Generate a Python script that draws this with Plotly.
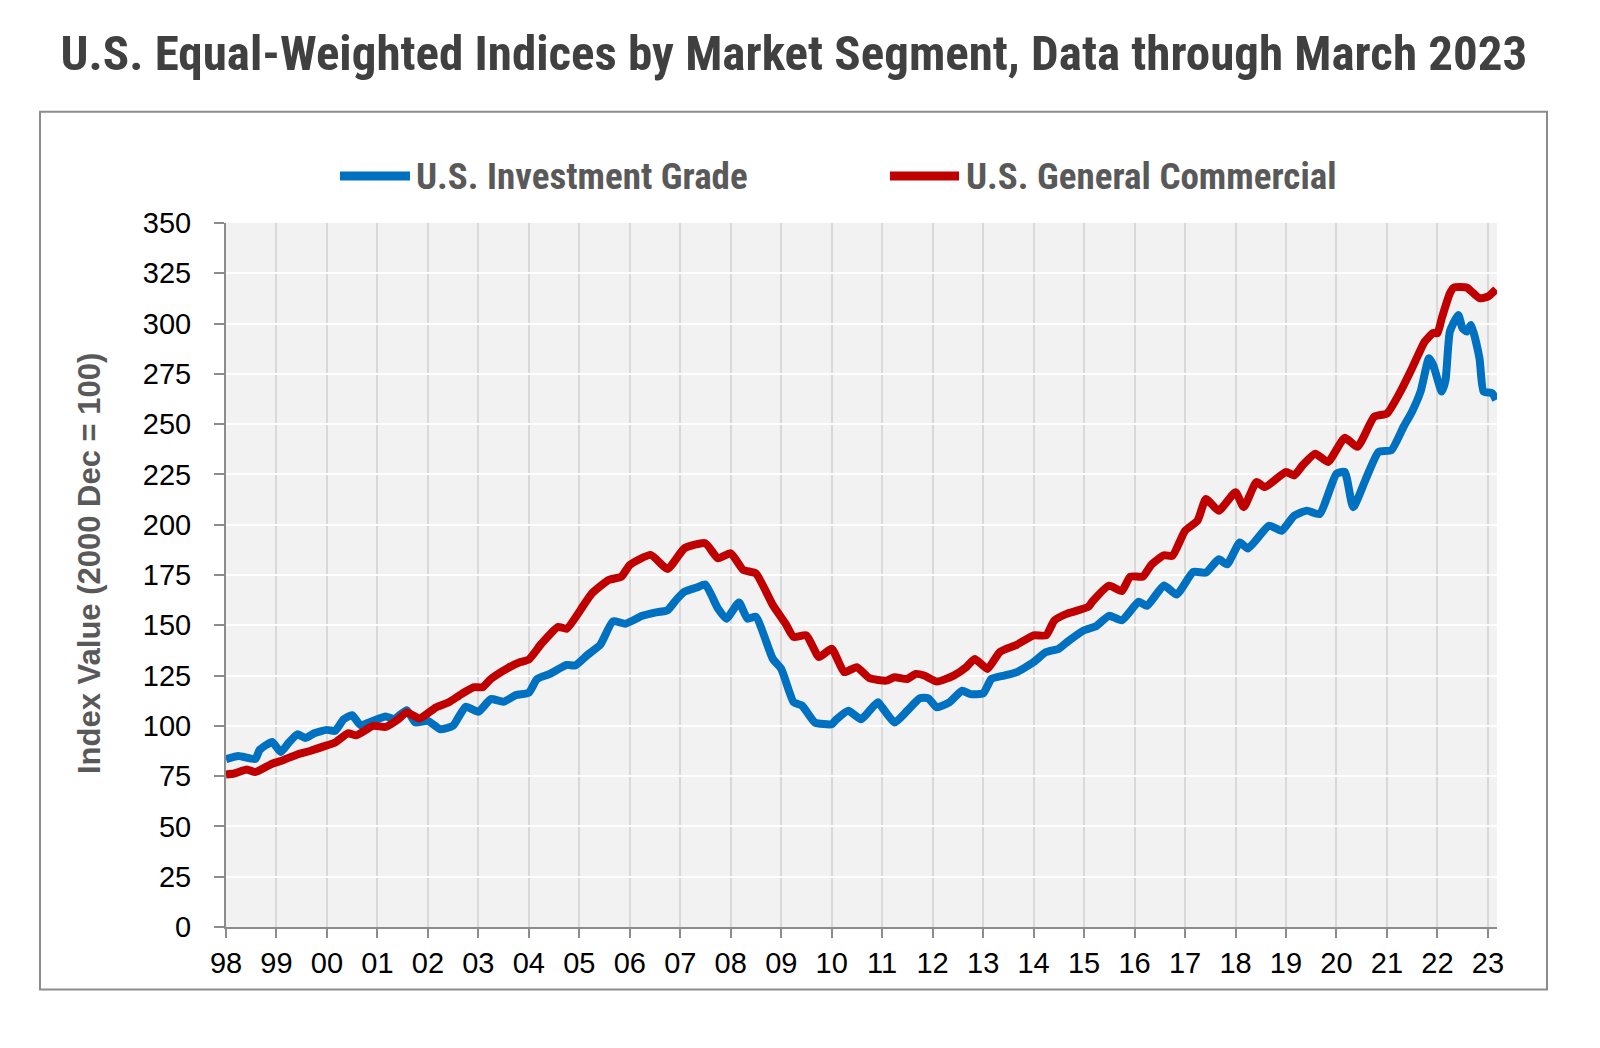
import plotly.graph_objects as go

# ---------------- data ----------------
series_names = ["U.S. Investment Grade", "U.S. General Commercial"]

ig_dates = [
    "1998-01", "1998-04", "1998-08", "1998-09", "1998-12", "1999-02", "1999-04", "1999-06",
    "1999-08", "1999-10", "2000-01", "2000-03", "2000-05", "2000-07", "2000-09", "2000-12",
    "2001-03", "2001-05", "2001-08", "2001-10", "2002-01", "2002-04", "2002-07", "2002-10",
    "2003-01", "2003-04", "2003-07", "2003-10", "2004-01", "2004-03", "2004-06", "2004-10",
    "2004-12", "2005-03", "2005-06", "2005-09", "2005-12", "2006-04", "2006-07", "2006-10",
    "2006-12", "2007-02", "2007-05", "2007-07", "2007-10", "2007-12", "2008-03", "2008-05",
    "2008-07", "2008-11", "2009-01", "2009-04", "2009-06", "2009-09", "2010-01", "2010-02",
    "2010-05", "2010-08", "2010-10", "2010-12", "2011-01", "2011-04", "2011-07", "2011-10",
    "2011-12", "2012-02", "2012-05", "2012-08", "2012-10", "2013-01", "2013-03", "2013-06",
    "2013-09", "2014-01", "2014-04", "2014-07", "2014-09", "2015-01", "2015-04", "2015-07",
    "2015-10", "2016-02", "2016-04", "2016-08", "2016-11", "2017-03", "2017-06", "2017-09",
    "2017-11", "2018-02", "2018-04", "2018-09", "2018-12", "2019-03", "2019-06", "2019-09",
    "2020-01", "2020-03", "2020-05", "2020-08", "2020-11", "2021-02", "2021-05", "2021-07",
    "2021-09", "2021-11", "2021-12", "2022-02", "2022-03", "2022-04", "2022-06", "2022-07",
    "2022-08", "2022-09", "2022-11", "2022-12", "2023-02", "2023-03",
]
ig_values = [
    83.5, 85.0, 83.5, 88.0, 92.0, 87.0, 91.7, 95.8,
    94.0, 96.3, 98.0, 97.5, 103.3, 105.3, 100.3, 102.5,
    104.7, 103.3, 107.8, 101.7, 102.5, 98.3, 100.0, 109.5,
    107.0, 113.3, 112.0, 115.3, 116.5, 123.3, 125.8, 130.3,
    130.0, 135.3, 140.3, 152.0, 150.8, 154.7, 156.3, 157.5,
    162.5, 166.7, 168.8, 170.3, 158.3, 153.3, 161.3, 153.3,
    154.2, 133.3, 128.3, 111.7, 110.0, 101.7, 100.8, 103.0,
    107.5, 103.3, 107.5, 111.7, 109.2, 101.7, 107.5, 113.7,
    113.7, 109.2, 111.7, 117.5, 115.8, 116.2, 123.3, 125.0,
    126.7, 131.7, 136.7, 138.3, 141.7, 147.5, 149.7, 154.7,
    152.5, 161.7, 159.7, 169.8, 165.3, 176.5, 176.2, 182.8,
    180.3, 191.2, 188.2, 199.5, 197.0, 204.5, 207.0, 205.3,
    225.3, 226.2, 208.7, 222.8, 236.2, 237.0, 248.7, 256.2,
    266.2, 282.8, 279.5, 266.2, 272.0, 296.0, 304.3, 297.7,
    296.0, 299.3, 282.8, 266.2, 265.4, 262.0,
]

gc_dates = [
    "1998-01", "1998-03", "1998-06", "1998-08", "1998-12", "1999-02", "1999-06", "1999-09",
    "2000-01", "2000-03", "2000-06", "2000-08", "2000-12", "2001-03", "2001-06", "2001-08",
    "2001-11", "2002-03", "2002-06", "2002-09", "2002-12", "2003-02", "2003-04", "2003-08",
    "2003-11", "2004-01", "2004-04", "2004-08", "2004-10", "2005-02", "2005-04", "2005-08",
    "2005-11", "2006-01", "2006-06", "2006-10", "2007-02", "2007-07", "2007-10", "2008-01",
    "2008-04", "2008-07", "2008-11", "2009-02", "2009-04", "2009-07", "2009-10", "2010-01",
    "2010-04", "2010-07", "2010-10", "2011-02", "2011-04", "2011-07", "2011-09", "2011-11",
    "2012-02", "2012-06", "2012-09", "2012-11", "2013-02", "2013-05", "2013-09", "2014-01",
    "2014-04", "2014-06", "2014-09", "2015-02", "2015-03", "2015-07", "2015-10", "2015-12",
    "2016-03", "2016-05", "2016-08", "2016-10", "2017-01", "2017-04", "2017-06", "2017-09",
    "2018-01", "2018-03", "2018-06", "2018-08", "2019-01", "2019-03", "2019-05", "2019-08",
    "2019-11", "2020-03", "2020-06", "2020-10", "2021-01", "2021-04", "2021-07", "2021-09",
    "2021-10", "2021-12", "2022-01", "2022-02", "2022-04", "2022-05", "2022-08", "2022-09",
    "2022-11", "2023-01", "2023-03",
]
gc_values = [
    75.8, 76.3, 78.3, 77.0, 81.2, 82.5, 85.8, 87.5,
    90.3, 91.7, 96.3, 95.3, 100.0, 99.5, 103.3, 106.7,
    103.7, 109.2, 111.7, 115.8, 119.2, 119.2, 123.3, 128.7,
    131.7, 133.0, 140.8, 149.2, 148.3, 160.0, 165.8, 172.5,
    174.2, 180.0, 185.0, 178.0, 188.3, 190.8, 183.3, 185.8,
    177.5, 175.8, 160.0, 150.8, 144.2, 145.0, 134.2, 138.3,
    126.7, 129.2, 123.7, 122.5, 124.2, 123.3, 125.8, 125.0,
    122.0, 125.0, 129.2, 133.3, 128.3, 136.7, 140.3, 145.0,
    145.0, 152.5, 155.8, 159.2, 161.7, 169.7, 167.0, 174.2,
    174.2, 180.0, 184.8, 184.5, 197.0, 202.0, 212.8, 207.0,
    216.2, 208.7, 221.2, 218.7, 226.2, 224.5, 229.5, 235.3,
    231.2, 243.2, 238.7, 253.7, 255.3, 265.3, 277.8, 287.0,
    291.0, 295.3, 295.2, 302.6, 315.0, 317.9, 317.9, 316.2,
    312.6, 313.4, 317.0,
]

tick_years = list(range(1998, 2024))
tick_labels = ["98", "99", "00", "01", "02", "03", "04", "05", "06", "07", "08", "09", "10",
               "11", "12", "13", "14", "15", "16", "17", "18", "19", "20", "21", "22", "23"]

y_ticks = list(range(0, 351, 25))

# ---------------- styling / layout ----------------
OFF = 8                      # page body margin of the html page
W, H = 1600 - 2 * OFF, 1048 - 2 * OFF
# target positions on screen, converted to figure coordinates
PL, PR, PT, PB = 226 - OFF, 1497 - OFF, 222.5 - OFF, 927.5 - OFF
pw, ph = PR - PL, PB - PT


def px(x_screen):
    return (x_screen - OFF - PL) / pw


def py(y_screen):
    return (PB - (y_screen - OFF)) / ph


BLUE = "#0070C0"
RED = "#C00000"
NARROW = "Liberation Sans Narrow, Arial Narrow, Roboto Condensed, Liberation Sans, Arial"
SANS = "Liberation Sans, Arial, sans-serif"

fig = go.Figure()
fig.add_trace(go.Scatter(x=ig_dates, y=ig_values, mode="lines", name=series_names[0],
                         line=dict(color=BLUE, width=8, shape="spline", smoothing=0.5)))
fig.add_trace(go.Scatter(x=gc_dates, y=gc_values, mode="lines", name=series_names[1],
                         line=dict(color=RED, width=8, shape="spline", smoothing=0.5)))

fig.update_layout(
    width=W, height=H,
    margin=dict(l=PL, r=W - PR, t=PT, b=H - PB, autoexpand=False),
    paper_bgcolor="white",
    plot_bgcolor="#F2F2F2",
    showlegend=False,
    title=dict(text="<b>U.S. Equal-Weighted Indices by Market Segment, Data through March 2023</b>",
               font=dict(family=NARROW, size=49, color="#404040"),
               x=(794 - OFF) / W, xref="container", xanchor="center",
               y=1 - (53 - OFF) / H, yref="container", yanchor="middle"),
)

fig.update_xaxes(
    type="date",
    range=["1998-01-01", "2023-03-08"],
    tickvals=[f"{y}-01-01" for y in tick_years],
    ticktext=tick_labels,
    tickfont=dict(family=SANS, size=29, color="black"),
    showgrid=True, gridcolor="#D9D9D9", gridwidth=2,
    showline=True, linecolor="#8C8C8C", linewidth=2,
    ticks="outside", ticklen=9, tickwidth=2, tickcolor="#8C8C8C",
    ticklabelstandoff=0,
    zeroline=False,
)
fig.update_yaxes(
    range=[0, 350],
    tickvals=y_ticks,
    tickfont=dict(family=SANS, size=29, color="black"),
    showgrid=True, gridcolor="white", gridwidth=2,
    showline=True, linecolor="#8C8C8C", linewidth=2,
    ticks="outside", ticklen=10, tickwidth=2, tickcolor="#8C8C8C",
    ticklabelstandoff=17,
    zeroline=False,
)

# outer frame
fig.add_shape(type="rect", xref="paper", yref="paper",
              x0=px(40), x1=px(1547), y0=py(990), y1=py(111),
              line=dict(color="#8C8C8C", width=2), fillcolor="rgba(0,0,0,0)", layer="below")

# y-axis title
fig.add_annotation(xref="paper", yref="paper", x=px(89), y=py(564),
                   text="<b>Index Value (2000 Dec = 100)</b>", textangle=-90,
                   showarrow=False, xanchor="center", yanchor="middle",
                   font=dict(family=SANS, size=31, color="#595959"))

# manual legend
legend_items = [(series_names[0], BLUE, 340, 410, 414), (series_names[1], RED, 890, 959, 964)]
for name, color, x0, x1, tx in legend_items:
    fig.add_shape(type="line", xref="paper", yref="paper",
                  x0=px(x0), x1=px(x1), y0=py(175.5), y1=py(175.5),
                  line=dict(color=color, width=9))
    fig.add_annotation(xref="paper", yref="paper", x=px(tx), y=py(175.5),
                       text=f"<b>{name}</b>", showarrow=False,
                       xanchor="left", yanchor="middle",
                       font=dict(family=NARROW, size=37, color="#595959"))

fig.write_html("out.html")
